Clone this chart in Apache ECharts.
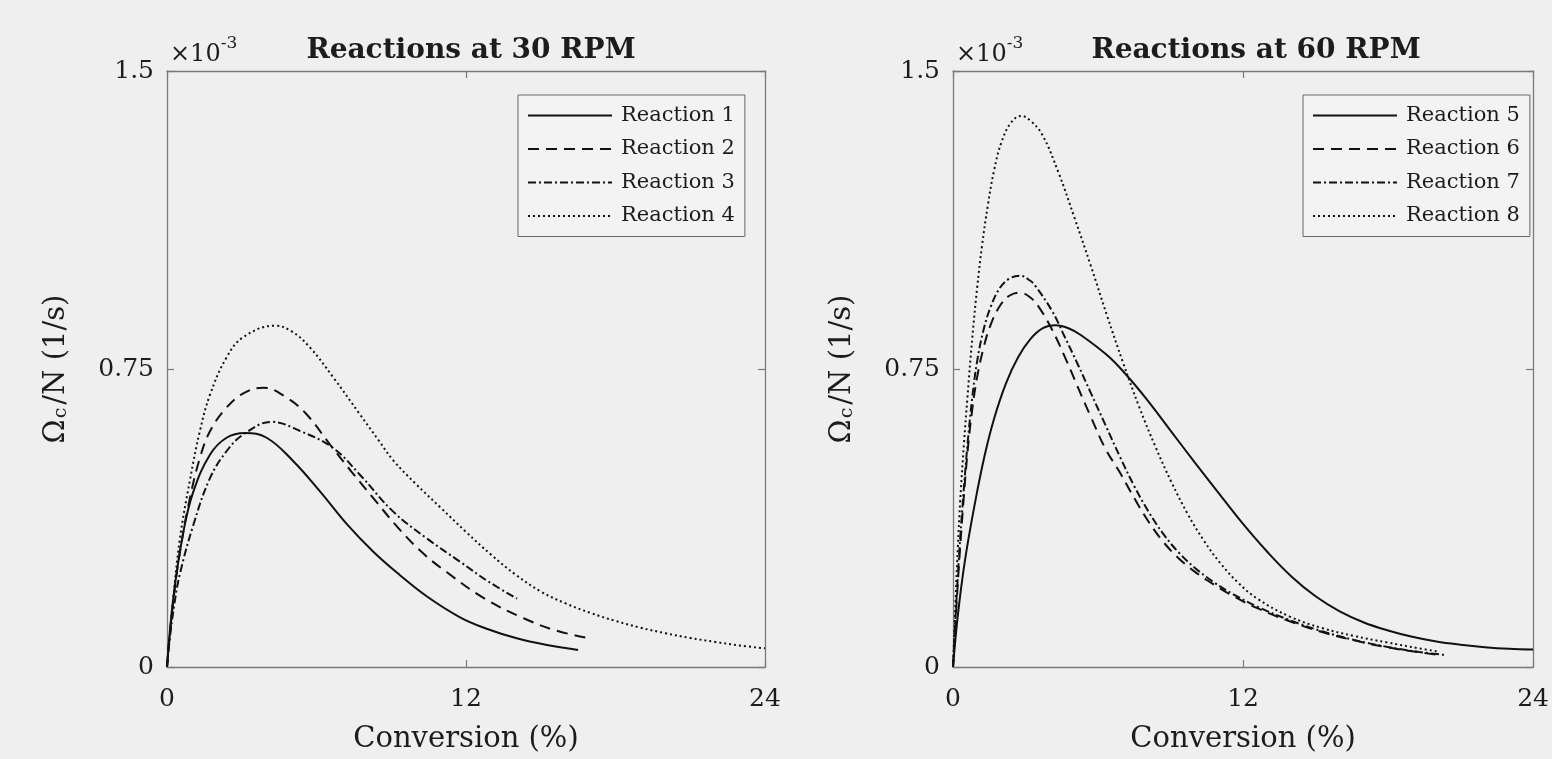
<!DOCTYPE html>
<html><head><meta charset="utf-8">
<script src="https://cdn.jsdelivr.net/npm/echarts@6/dist/echarts.min.js"></script>
<style>html,body{margin:0;padding:0;background:#efefef}#c{width:1552px;height:759px}</style>
</head><body><div id="c"></div>
<script>
// ---- Data (y in units of 1e-3 1/s, x in % conversion) ----
const titles30 = 'Reactions at 30 RPM';
const titles60 = 'Reactions at 60 RPM';
const xTicks = [0, 12, 24];
const yTicks = [0, 0.75, 1.5];

const reaction1X = [0, 0.25, 0.66, 1.06, 1.73, 2.39, 3.13, 4.0, 5.07, 6.14, 7.21, 8.28, 9.35, 10.42, 11.76, 12.8, 14.0, 15.2, 16.5];
const reaction1Y = [0, 0.172, 0.341, 0.442, 0.535, 0.577, 0.589, 0.577, 0.518, 0.442, 0.360, 0.290, 0.231, 0.178, 0.125, 0.097, 0.073, 0.056, 0.043];

const reaction2X = [0, 0.1, 0.3, 0.52, 0.92, 1.32, 1.73, 2.39, 3.1, 3.87, 4.8, 5.6, 6.54, 7.4, 8.28, 9.35, 10.3, 11.22, 12.75, 14.34, 15.6, 16.96];
const reaction2Y = [0, 0.075, 0.19, 0.29, 0.425, 0.526, 0.594, 0.653, 0.69, 0.703, 0.678, 0.636, 0.56, 0.492, 0.425, 0.345, 0.285, 0.239, 0.172, 0.122, 0.092, 0.072];

const reaction3X = [0, 0.1, 0.3, 0.52, 1.06, 1.73, 2.39, 3.06, 4.2, 5.34, 6.67, 7.74, 9.08, 10.42, 11.76, 12.9, 14.05];
const reaction3Y = [0, 0.065, 0.16, 0.235, 0.358, 0.476, 0.543, 0.585, 0.617, 0.594, 0.551, 0.484, 0.391, 0.324, 0.265, 0.215, 0.172];

const reaction4X = [0, 0.25, 0.52, 0.92, 1.32, 1.73, 2.39, 3.06, 4.33, 5.0, 5.74, 6.67, 7.74, 8.5, 9.08, 10, 11, 12, 13, 14, 15, 16, 17, 18, 19, 20, 21, 22, 23, 24];
const reaction4Y = [0, 0.172, 0.324, 0.47, 0.594, 0.686, 0.779, 0.83, 0.859, 0.845, 0.804, 0.729, 0.636, 0.57, 0.52, 0.46, 0.40, 0.34, 0.283, 0.232, 0.19, 0.16, 0.136, 0.116, 0.099, 0.085, 0.073, 0.063, 0.054, 0.047];

const reaction5X = [0, 0.2, 0.5, 0.9, 1.3, 1.7, 2.2, 2.7, 3.2, 3.7, 4.23, 4.8, 5.3, 6.37, 7.1, 8, 9, 10, 11, 12, 13, 14, 15, 16, 17, 18, 19, 20, 21, 22, 23, 24];
const reaction5Y = [0, 0.13, 0.27, 0.41, 0.53, 0.625, 0.715, 0.78, 0.825, 0.852, 0.86, 0.852, 0.835, 0.785, 0.740, 0.675, 0.595, 0.515, 0.437, 0.36, 0.29, 0.228, 0.178, 0.140, 0.112, 0.092, 0.076, 0.064, 0.056, 0.050, 0.046, 0.044];

const reaction6X = [0, 0.1, 0.25, 0.4, 0.6, 0.8, 1.0, 1.25, 1.55, 1.95, 2.35, 2.76, 3.2, 3.56, 4.09, 4.63, 5.16, 5.7, 6.3, 6.9, 7.5, 8.1, 8.7, 9.31, 10.0, 10.8, 11.6, 12.59, 13.93, 15.27, 16.6, 17.94, 19.28, 20.0];
const reaction6Y = [0, 0.11, 0.26, 0.39, 0.54, 0.65, 0.73, 0.80, 0.86, 0.91, 0.935, 0.942, 0.93, 0.905, 0.85, 0.78, 0.705, 0.63, 0.55, 0.49, 0.425, 0.365, 0.315, 0.275, 0.24, 0.207, 0.178, 0.148, 0.115, 0.088, 0.067, 0.050, 0.037, 0.031];

const reaction7X = [0, 0.1, 0.25, 0.4, 0.6, 0.8, 1.0, 1.25, 1.55, 1.95, 2.35, 2.76, 3.2, 3.42, 4.09, 4.63, 5.16, 5.7, 6.3, 6.9, 7.5, 8.1, 8.7, 9.31, 10.0, 10.8, 11.6, 12.59, 13.93, 15.27, 16.6, 17.94, 19.28, 20.4];
const reaction7Y = [0, 0.12, 0.28, 0.41, 0.56, 0.68, 0.77, 0.845, 0.905, 0.955, 0.978, 0.985, 0.972, 0.958, 0.897, 0.83, 0.762, 0.69, 0.61, 0.53, 0.455, 0.39, 0.335, 0.29, 0.25, 0.213, 0.183, 0.152, 0.118, 0.090, 0.068, 0.051, 0.038, 0.030];

const reaction8X = [0, 0.1, 0.2, 0.3, 0.45, 0.6, 0.8, 1.0, 1.2, 1.45, 1.7, 2.0, 2.4, 2.82, 3.2, 3.69, 4.36, 5.03, 5.7, 6.37, 7.04, 7.7, 8.37, 9.04, 9.71, 10.38, 11.05, 11.8, 12.59, 13.93, 15.27, 16.6, 17.94, 19.28, 20.08];
const reaction8Y = [0, 0.16, 0.30, 0.42, 0.56, 0.68, 0.83, 0.955, 1.06, 1.165, 1.25, 1.32, 1.37, 1.387, 1.375, 1.34, 1.245, 1.13, 1.01, 0.885, 0.765, 0.655, 0.555, 0.465, 0.385, 0.318, 0.262, 0.212, 0.172, 0.127, 0.098, 0.078, 0.062, 0.047, 0.039];

// ---- Build ----
const FONT = 'DejaVu Serif';
const zip = (xs, ys) => xs.map((x, i) => [x, ys[i]]);
const dashStyles = { solid: 'solid', dashed: [11, 7], dashdot: [8, 3, 2, 3], dotted: [2, 3] };

const seriesDefs = [
  { name: 'Reaction 1', x: reaction1X, y: reaction1Y, style: 'solid', panel: 0 },
  { name: 'Reaction 2', x: reaction2X, y: reaction2Y, style: 'dashed', panel: 0 },
  { name: 'Reaction 3', x: reaction3X, y: reaction3Y, style: 'dashdot', panel: 0 },
  { name: 'Reaction 4', x: reaction4X, y: reaction4Y, style: 'dotted', panel: 0 },
  { name: 'Reaction 5', x: reaction5X, y: reaction5Y, style: 'solid', panel: 1 },
  { name: 'Reaction 6', x: reaction6X, y: reaction6Y, style: 'dashed', panel: 1 },
  { name: 'Reaction 7', x: reaction7X, y: reaction7Y, style: 'dashdot', panel: 1 },
  { name: 'Reaction 8', x: reaction8X, y: reaction8Y, style: 'dotted', panel: 1 }
];

const AXC = '#7a7a7a';
const TXT = '#1c1c1c';
const grids = [
  { left: 167, top: 71, width: 598, height: 597 },
  { left: 953, top: 71, width: 597, height: 597 }
];

const xAxes = [], yAxes = [];
grids.forEach((g, gi) => {
  xAxes.push({
    gridIndex: gi, type: 'value', min: xTicks[0], max: xTicks[2], interval: xTicks[1] - xTicks[0], position: 'bottom',
    axisLine: { show: true, onZero: false, lineStyle: { color: AXC, width: 1.3 } },
    axisTick: { show: true, inside: true, length: 7, lineStyle: { color: AXC, width: 1.2 } },
    axisLabel: { margin: 20, fontSize: 25, fontFamily: FONT, color: TXT },
    splitLine: { show: false },
    name: 'Conversion (%)', nameLocation: 'middle', nameGap: 58,
    nameTextStyle: { fontSize: 29, fontFamily: FONT, color: TXT }
  });
  xAxes.push({
    gridIndex: gi, type: 'value', min: xTicks[0], max: xTicks[2], interval: xTicks[1] - xTicks[0], position: 'top',
    axisLine: { show: true, onZero: false, lineStyle: { color: AXC, width: 1.3 } },
    axisTick: { show: true, inside: true, length: 7, lineStyle: { color: AXC, width: 1.2 } },
    axisLabel: { show: false }, splitLine: { show: false }
  });
  yAxes.push({
    gridIndex: gi, type: 'value', min: yTicks[0], max: yTicks[2], interval: yTicks[1] - yTicks[0], position: 'left',
    axisLine: { show: true, onZero: false, lineStyle: { color: AXC, width: 1.3 } },
    axisTick: { show: true, inside: true, length: 7, lineStyle: { color: AXC, width: 1.2 } },
    axisLabel: { margin: 13, fontSize: 25, fontFamily: FONT, color: TXT },
    splitLine: { show: false },
    name: '{a|Ω}{s|c}{a|/N (1/s)}', nameLocation: 'middle', nameRotate: 90, nameGap: 96,
    nameTextStyle: {
      color: TXT,
      rich: {
        a: { fontSize: 29, fontFamily: FONT, color: TXT, lineHeight: 32, verticalAlign: 'bottom' },
        s: { fontSize: 19, fontFamily: FONT, color: TXT, lineHeight: 18, verticalAlign: 'bottom', padding: [0, 3, 0, 1] }
      }
    }
  });
  yAxes.push({
    gridIndex: gi, type: 'value', min: yTicks[0], max: yTicks[2], interval: yTicks[1] - yTicks[0], position: 'right',
    axisLine: { show: true, onZero: false, lineStyle: { color: AXC, width: 1.3 } },
    axisTick: { show: true, inside: true, length: 7, lineStyle: { color: AXC, width: 1.2 } },
    axisLabel: { show: false }, splitLine: { show: false }
  });
});

const series = seriesDefs.map(d => ({
  name: d.name, type: 'line',
  xAxisIndex: d.panel * 2, yAxisIndex: d.panel * 2,
  data: zip(d.x, d.y),
  symbol: 'none', showSymbol: false, smooth: 0.4,
  lineStyle: { color: '#111', width: 2, type: dashStyles[d.style] },
  itemStyle: { color: '#111' },
  emphasis: { disabled: true }
}));

const legendBase = {
  orient: 'vertical', top: 95, padding: [10, 10, 10, 9],
  itemWidth: 84, itemHeight: 20, itemGap: 12.5,
  itemStyle: { opacity: 0 },
  textStyle: { fontFamily: FONT, fontSize: 21, color: TXT, padding: [0, 0, 0, 4] },
  borderColor: '#666', borderWidth: 1, backgroundColor: '#f3f3f3',
  selectedMode: false
};

const exponentLabels = [0, 1].map(gi => ({
  type: 'text', left: grids[gi].left + 3, top: 35, z: 10,
  style: {
    text: '{a|×10}{b|-3}',
    rich: {
      a: { fontSize: 24, fontFamily: FONT, fill: TXT, lineHeight: 32, verticalAlign: 'bottom' },
      b: { fontSize: 17, fontFamily: FONT, fill: TXT, lineHeight: 16, verticalAlign: 'top' }
    }
  }
}));

const option = {
  animation: false,
  backgroundColor: '#efefef',
  title: [
    { text: titles30, left: 466, textAlign: 'center', top: 32, textStyle: { fontFamily: FONT, fontSize: 28, fontWeight: 'bold', color: TXT } },
    { text: titles60, left: 1251, textAlign: 'center', top: 32, textStyle: { fontFamily: FONT, fontSize: 28, fontWeight: 'bold', color: TXT } }
  ],
  grid: grids,
  xAxis: xAxes,
  yAxis: yAxes,
  legend: [
    Object.assign({}, legendBase, { left: 518, data: seriesDefs.filter(d => d.panel === 0).map(d => d.name) }),
    Object.assign({}, legendBase, { left: 1303, data: seriesDefs.filter(d => d.panel === 1).map(d => d.name) })
  ],
  graphic: exponentLabels,
  series: series
};

const chart = echarts.init(document.getElementById('c'), null, { renderer: 'canvas' });
chart.setOption(option);
</script>
</body></html>
